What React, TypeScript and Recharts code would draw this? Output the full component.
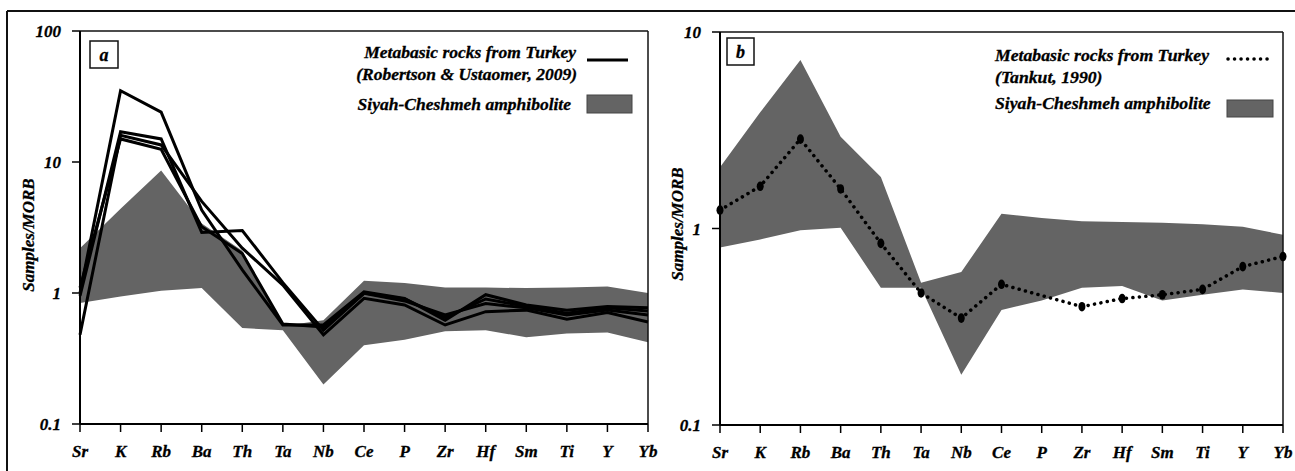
import React from 'react';
import { ComposedChart, Line, Area, XAxis, YAxis, ReferenceLine } from 'recharts';

const elements = ['Sr', 'K', 'Rb', 'Ba', 'Th', 'Ta', 'Nb', 'Ce', 'P', 'Zr', 'Hf', 'Sm', 'Ti', 'Y', 'Yb'];

// panel a: Siyah-Cheshmeh amphibolite field
const bandALow = [0.84, 0.94, 1.04, 1.09, 0.54, 0.52, 0.2, 0.4, 0.44, 0.51, 0.52, 0.46, 0.49, 0.5, 0.42];
const bandAHigh = [2.2, 4.4, 8.6, 3.4, 2.1, 0.56, 0.62, 1.24, 1.19, 1.1, 1.1, 1.09, 1.1, 1.12, 1.0];

// panel a: metabasic rocks from Turkey (Robertson & Ustaomer, 2009)
const robertson1 = [1.0, 35, 24, 4.3, 1.5, 0.57, 0.57, 1.02, 0.91, 0.62, 0.97, 0.81, 0.74, 0.79, 0.77];
const robertson2 = [0.95, 17, 15, 2.9, 3.0, 1.2, 0.52, 0.995, 0.87, 0.68, 0.83, 0.77, 0.68, 0.74, 0.68];
const robertson3 = [0.48, 16, 13.5, 5.0, 2.2, 1.15, 0.48, 0.91, 0.81, 0.57, 0.72, 0.74, 0.63, 0.71, 0.6];
const robertson4 = [1.1, 15, 12.5, 3.2, 2.0, 0.58, 0.55, 1.0, 0.9, 0.65, 0.9, 0.79, 0.7, 0.77, 0.73];

// panel b: Siyah-Cheshmeh amphibolite field
const bandBLow = [0.8, 0.88, 0.98, 1.01, 0.5, 0.5, 0.18, 0.385, 0.43, 0.5, 0.51, 0.43, 0.46, 0.49, 0.47];
const bandBHigh = [2.05, 3.9, 7.2, 2.93, 1.83, 0.53, 0.6, 1.19, 1.13, 1.09, 1.08, 1.07, 1.05, 1.02, 0.93];

// panel b: metabasic rocks from Turkey (Tankut, 1990), no P value
const tankut = [1.24, 1.64, 2.85, 1.59, 0.84, 0.47, 0.35, 0.52, null, 0.4, 0.44, 0.46, 0.49, 0.64, 0.72];

const ticksA = [0.1, 1, 10, 100];
const ticksB = [0.1, 1, 10];

const rowsA = elements.map((el, i) => ({
  el,
  band: [bandALow[i], bandAHigh[i]],
  r1: robertson1[i],
  r2: robertson2[i],
  r3: robertson3[i],
  r4: robertson4[i],
}));

const rowsB = elements.map((el, i) => ({
  el,
  band: [bandBLow[i], bandBHigh[i]],
  tankut: tankut[i],
}));

const FONT = '"Liberation Serif", "Times New Roman", serif';
const FIELD = '#646464';

const tickFont = {
  fontFamily: FONT,
  fontWeight: 'bold',
  fontStyle: 'italic',
  fontSize: 17,
  fill: '#000',
  stroke: '#000',
  strokeWidth: 0.3,
};

const textProps = {
  fontFamily: FONT,
  fontWeight: 'bold' as const,
  fontStyle: 'italic' as const,
  fill: '#000',
  stroke: '#000',
  strokeWidth: 0.3,
};

const fmt = (v: number) => String(v);

const Dot = (props: any) => {
  const { cx, cy, value } = props;
  if (value == null || cx == null || cy == null) return null;
  return <ellipse cx={cx} cy={cy} rx={3.5} ry={4.8} fill="#000" />;
};

const Overlay = () => (
  <svg width={1295} height={471} style={{ position: 'absolute', left: 0, top: 0, pointerEvents: 'none' }}>
    {/* outer frame */}
    <line x1={7} y1={11} x2={1295} y2={11} stroke="#111" strokeWidth={2} />
    <line x1={7} y1={11} x2={7} y2={471} stroke="#111" strokeWidth={2} />

    {/* panel a */}
    <rect x={90} y={41} width={28} height={27} fill="#fff" stroke="#111" strokeWidth={1.5} />
    <text x={104} y={55} textAnchor="middle" dominantBaseline="central" fontSize={18} {...textProps}>a</text>
    <text transform="translate(28,235) rotate(-90)" textAnchor="middle" dominantBaseline="central" fontSize={17} {...textProps}>
      Samples/MORB
    </text>
    <text x={576} y={52} textAnchor="end" dominantBaseline="central" fontSize={17.5} {...textProps}>Metabasic rocks from Turkey</text>
    <text x={577} y={74} textAnchor="end" dominantBaseline="central" fontSize={17.5} {...textProps}>(Robertson &amp; Ustaomer, 2009)</text>
    <text x={571} y={104} textAnchor="end" dominantBaseline="central" fontSize={17.5} {...textProps}>Siyah-Cheshmeh amphibolite</text>
    <line x1={587} y1={60} x2={628} y2={60} stroke="#000" strokeWidth={3} />
    <rect x={587} y={95} width={45} height={18} fill={FIELD} stroke="#444" strokeWidth={1} />

    {/* panel b */}
    <rect x={727} y={38} width={27} height={27} fill="#fff" stroke="#111" strokeWidth={1.5} />
    <text x={740.5} y={52} textAnchor="middle" dominantBaseline="central" fontSize={18} {...textProps}>b</text>
    <text transform="translate(677,224) rotate(-90)" textAnchor="middle" dominantBaseline="central" fontSize={17} {...textProps}>
      Samples/MORB
    </text>
    <text x={995} y={55} dominantBaseline="central" fontSize={17.7} {...textProps}>Metabasic rocks from Turkey</text>
    <text x={995} y={77} dominantBaseline="central" fontSize={17.7} {...textProps}>(Tankut, 1990)</text>
    <text x={995} y={103} dominantBaseline="central" fontSize={17.7} {...textProps}>Siyah-Cheshmeh amphibolite</text>
    <line x1={1228} y1={59} x2={1272} y2={59} stroke="#000" strokeWidth={3.5} strokeDasharray="0.1 6.4" strokeLinecap="round" />
    <rect x={1227} y={100} width={46} height={17} fill={FIELD} stroke="#444" strokeWidth={1} />
  </svg>
);

export default function App() {
  return (
    <div style={{ position: 'absolute', left: 0, top: 0, width: 1295, height: 471, background: '#fff', overflow: 'hidden' }}>
      <div style={{ position: 'absolute', left: 0, top: 0 }}>
        <ComposedChart width={700} height={471} data={rowsA} margin={{ top: 31, right: 52, bottom: 17, left: 20 }}>
          <XAxis
            dataKey="el"
            scale="point"
            interval={0}
            height={30}
            tickSize={8}
            tickMargin={13}
            axisLine={{ stroke: '#000', strokeWidth: 2 }}
            tickLine={{ stroke: '#000', strokeWidth: 1.5 }}
            tick={tickFont}
          />
          <YAxis
            type="number"
            scale="log"
            domain={[0.1, 100]}
            allowDataOverflow
            ticks={ticksA}
            tickFormatter={fmt}
            width={60}
            tickSize={8}
            tickMargin={11}
            axisLine={{ stroke: '#000', strokeWidth: 2 }}
            tickLine={{ stroke: '#000', strokeWidth: 1.5 }}
            tick={tickFont}
          />
          <ReferenceLine y={100} stroke="#111" strokeWidth={1.5} />
          <ReferenceLine x="Yb" stroke="#111" strokeWidth={1.5} />
          <Area dataKey="band" type="linear" fill={FIELD} fillOpacity={1} stroke="none" isAnimationActive={false} />
          <Line dataKey="r1" type="linear" stroke="#000" strokeWidth={3} dot={false} isAnimationActive={false} />
          <Line dataKey="r2" type="linear" stroke="#000" strokeWidth={3} dot={false} isAnimationActive={false} />
          <Line dataKey="r3" type="linear" stroke="#000" strokeWidth={3} dot={false} isAnimationActive={false} />
          <Line dataKey="r4" type="linear" stroke="#000" strokeWidth={3} dot={false} isAnimationActive={false} />
        </ComposedChart>
      </div>
      <div style={{ position: 'absolute', left: 650, top: 0 }}>
        <ComposedChart width={645} height={471} data={rowsB} margin={{ top: 32, right: 12, bottom: 16, left: 10 }}>
          <XAxis
            dataKey="el"
            scale="point"
            interval={0}
            height={30}
            tickSize={8}
            tickMargin={13}
            axisLine={{ stroke: '#000', strokeWidth: 2 }}
            tickLine={{ stroke: '#000', strokeWidth: 1.5 }}
            tick={tickFont}
          />
          <YAxis
            type="number"
            scale="log"
            domain={[0.1, 10]}
            allowDataOverflow
            ticks={ticksB}
            tickFormatter={fmt}
            width={60}
            tickSize={8}
            tickMargin={11}
            axisLine={{ stroke: '#000', strokeWidth: 2 }}
            tickLine={{ stroke: '#000', strokeWidth: 1.5 }}
            tick={tickFont}
          />
          <ReferenceLine y={10} stroke="#111" strokeWidth={1.5} />
          <ReferenceLine x="Yb" stroke="#111" strokeWidth={1.5} />
          <Area dataKey="band" type="linear" fill={FIELD} fillOpacity={1} stroke="none" isAnimationActive={false} />
          <Line
            dataKey="tankut"
            type="linear"
            stroke="#000"
            strokeWidth={3.5}
            strokeDasharray="0.1 6.4"
            strokeLinecap="round"
            connectNulls
            dot={<Dot />}
            isAnimationActive={false}
          />
        </ComposedChart>
      </div>
      <Overlay />
    </div>
  );
}
